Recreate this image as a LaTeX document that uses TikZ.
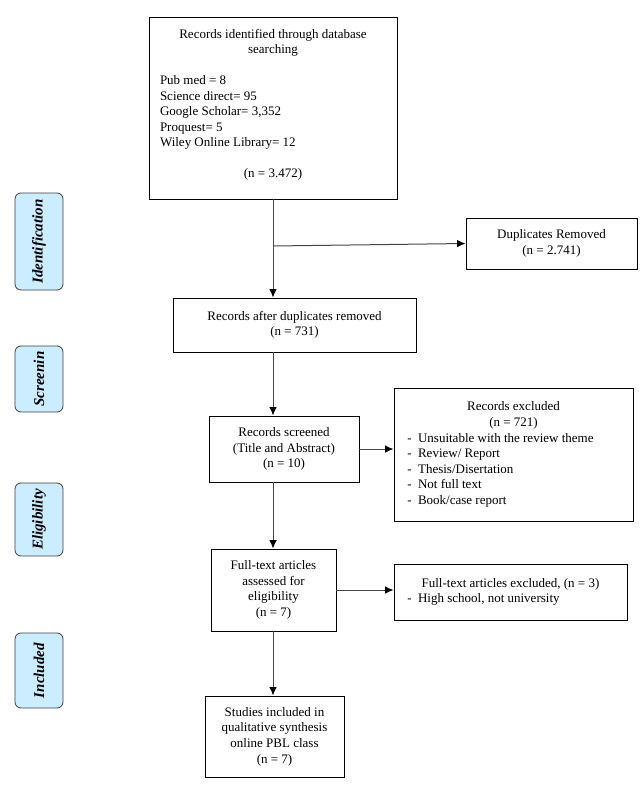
\documentclass[tikz,border=0pt]{standalone}
\usepackage{fontspec}
\setmainfont{Liberation Serif}
\usetikzlibrary{arrows.meta}
\definecolor{lbl}{RGB}{204,236,255}
\definecolor{lnc}{RGB}{70,70,70}
\begin{document}
\begin{tikzpicture}[x=1pt,y=-1pt,
  every node/.style={font=\fontsize{13}{15.6}\selectfont},
  box/.style={draw=black, line width=0.9pt, inner sep=0pt, align=center},
  side/.style={draw=black!75, line width=0.8pt, fill=lbl, rounded corners=6pt,
    minimum width=48pt, inner sep=0pt},
  sidet/.style={rotate=90, font=\fontsize{15}{17}\selectfont\bfseries\itshape},
  ln/.style={draw=lnc, line width=1pt},
  arr/.style={ln, -{Latex[length=8.5pt,width=7.5pt,fill=black,color=black]}}]
\useasboundingbox (0,0) rectangle (643,790);
\fill[white] (0,0) rectangle (643,790);

% main boxes
\node[box, minimum width=248pt, minimum height=182pt] (id) at (273,108) {};
\node[align=center, inner sep=0pt, anchor=north] (idt) at (273,29)
  {Records identified through database\\ searching\\[15pt]
   \makebox[226pt][l]{Pub med = 8}\\
   \makebox[226pt][l]{Science direct= 95}\\
   \makebox[226pt][l]{Google Scholar= 3,352}\\
   \makebox[226pt][l]{Proquest= 5}\\
   \makebox[226pt][l]{Wiley Online Library= 12}\\[15pt]
   (n = 3.472)};

\node[box, minimum width=171pt, minimum height=51pt] (dup) at (551.5,243.5)
  {Duplicates Removed\\ (n = 2.741)};

\node[box, minimum width=243pt, minimum height=54pt] (b2) at (294.5,325)
  {Records after duplicates removed\\ (n = 731)};

\node[box, minimum width=150pt, minimum height=66pt] (b3) at (284,449)
  {Records screened\\ (Title and Abstract)\\ (n = 10)};

\node[box, minimum width=239pt, minimum height=133pt] (ex1) at (513.5,454.5)
  {Records excluded\\ (n = 721)\\
   \makebox[219pt][l]{\ - \ Unsuitable with the review theme}\\
   \makebox[219pt][l]{\ - \ Review/ Report}\\
   \makebox[219pt][l]{\ - \ Thesis/Disertation}\\
   \makebox[219pt][l]{\ - \ Not full text}\\
   \makebox[219pt][l]{\ - \ Book/case report}};

\node[box, minimum width=125pt, minimum height=82pt] (b4) at (273.5,590)
  {Full-text articles\\ assessed for\\ eligibility\\ (n = 7)};

\node[box, minimum width=233pt, minimum height=56pt] (ex2) at (510.5,592)
  {Full-text articles excluded, (n = 3)\\
   \makebox[213pt][l]{\ - \ High school, not university}};

\node[box, minimum width=139pt, minimum height=81pt] (b5) at (274.5,736.5)
  {Studies included in\\ qualitative synthesis\\ online PBL class\\ (n = 7)};

% side labels
\node[side, minimum height=97pt] (s1) at (39,241.5) {};
\node[sidet] (s1t) at (s1.center) {Identification};
\node[side, minimum height=66pt] (s2) at (39,379) {};
\node[sidet] (s2t) at (s2.center) {Screenin};
\node[side, minimum height=73pt] (s3) at (39,519.5) {};
\node[sidet] (s3t) at (s3.center) {Eligibility};
\node[side, minimum height=75pt] (s4) at (39,670.5) {};
\node[sidet] (s4t) at (s4.center) {Included};

% connectors
\coordinate (j) at (273,246);
\draw[ln] (id.south) -- (j);
\draw[arr] (j) -- (dup.west);
\draw[arr] (j) -- (b2.north -| j);
\draw[arr] (b2.south -| j) -- (b3.north -| j);
\draw[arr] (b3.east) -- (b3.east -| ex1.west);
\draw[arr] (b3.south -| j) -- (b4.north -| j);
\draw[arr] (b4.east) -- (b4.east -| ex2.west);
\draw[arr] (b4.south -| j) -- (b5.north -| j);
\end{tikzpicture}
\end{document}
